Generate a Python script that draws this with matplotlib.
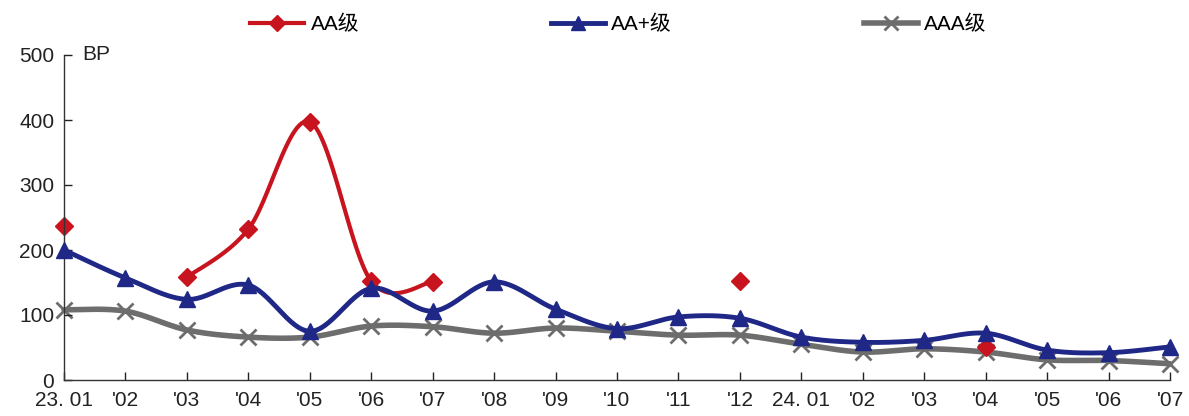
import numpy as np
import matplotlib.pyplot as plt
from matplotlib.lines import Line2D

plt.rcParams['font.family'] = ['Liberation Sans', 'Noto Sans CJK SC']

months = ["23. 01", "'02", "'03", "'04", "'05", "'06", "'07", "'08", "'09", "'10",
          "'11", "'12", "24. 01", "'02", "'03", "'04", "'05", "'06", "'07"]

# spreads in BP, None where no issuance
aa = [237, None, 158, 232, 397, 152, 151, None, None, None,
      None, 152, None, None, None, 51, None, None, None]
aa_plus = [200, 157, 124, 146, 75, 141, 106, 151, 109, 79,
           97, 95, 66, 58, 61, 72, 46, 42, 51]
aaa = [108, 106, 77, 66, 66, 83, 82, 72, 80, 75,
       69, 69, 55, 43, 48, 43, 31, 30, 25]

RED = '#c8141e'
BLUE = '#1f2886'
GREY = '#6d6d6d'


def smooth(xs, ys, n=30):
    # cubic bezier through points, control points at +-(p[i+1]-p[i-1])/6
    p = np.column_stack([xs, ys]).astype(float)
    if len(p) < 2:
        return p[:, 0], p[:, 1]
    ext = np.vstack([p[0], p, p[-1]])
    out = []
    t = np.linspace(0, 1, n)[:, None]
    for i in range(len(p) - 1):
        p0, p1, p2, p3 = ext[i], ext[i + 1], ext[i + 2], ext[i + 3]
        c1 = p1 + (p2 - p0) / 6
        c2 = p2 - (p3 - p1) / 6
        seg = ((1 - t) ** 3) * p1 + 3 * ((1 - t) ** 2) * t * c1 \
            + 3 * (1 - t) * t ** 2 * c2 + t ** 3 * p2
        out.append(seg if i == 0 else seg[1:])
    out = np.vstack(out)
    return out[:, 0], out[:, 1]


def runs(vals):
    cur = []
    for i, v in enumerate(vals):
        if v is None:
            if cur:
                yield cur
            cur = []
        else:
            cur.append((i, v))
    if cur:
        yield cur


def draw(ax, vals, color, lw, marker, ms, mew=1, z=2):
    for r in runs(vals):
        xs, ys = zip(*r)
        sx, sy = smooth(xs, ys)
        ax.plot(sx, sy, color=color, lw=lw, zorder=z, solid_capstyle='round',
                clip_on=False)
        ax.plot(xs, ys, ls='none', marker=marker, ms=ms, color=color,
                mew=mew, zorder=z + 0.5, clip_on=False)


fig = plt.figure(figsize=(11.89, 4.16), dpi=100)
ax = fig.add_axes([64 / 1189, 1 - 380 / 416, (1170 - 64) / 1189, (380 - 55) / 416])

draw(ax, aa, RED, 3, 'D', 9, z=2)
draw(ax, aa_plus, BLUE, 3.5, '^', 11, z=3)
draw(ax, aaa, GREY, 4, 'x', 11, mew=2, z=1)

x = np.arange(len(months))
ax.set_xlim(0, len(months) - 1)
ax.set_ylim(0, 500)
ax.set_xticks(x)
ax.set_xticklabels(months)
ax.set_yticks(range(0, 501, 100))
ax.tick_params(direction='in', length=6, width=1, labelsize=15,
               colors='#222222', pad=7)
ax.tick_params(axis='x', pad=8)
for s in ('top', 'right'):
    ax.spines[s].set_visible(False)
for s in ('left', 'bottom'):
    ax.spines[s].set_color('#333333')
    ax.spines[s].set_linewidth(1)

ax.text(0.3, 500, 'BP', fontsize=15, color='#222222', va='center', ha='left')

handles = [
    Line2D([], [], color=RED, lw=3, marker='D', ms=8),
    Line2D([], [], color=BLUE, lw=3.5, marker='^', ms=10),
    Line2D([], [], color=GREY, lw=4, marker='x', ms=10, mew=2),
]
fig.legend(handles, ['AA级', 'AA+级', 'AAA级'], loc='center',
           bbox_to_anchor=(0.52, 0.94), ncol=3, frameon=False,
           fontsize=15, handlelength=2.6, handletextpad=0.3,
           columnspacing=9.2)

fig.savefig('out.png', dpi=100)
